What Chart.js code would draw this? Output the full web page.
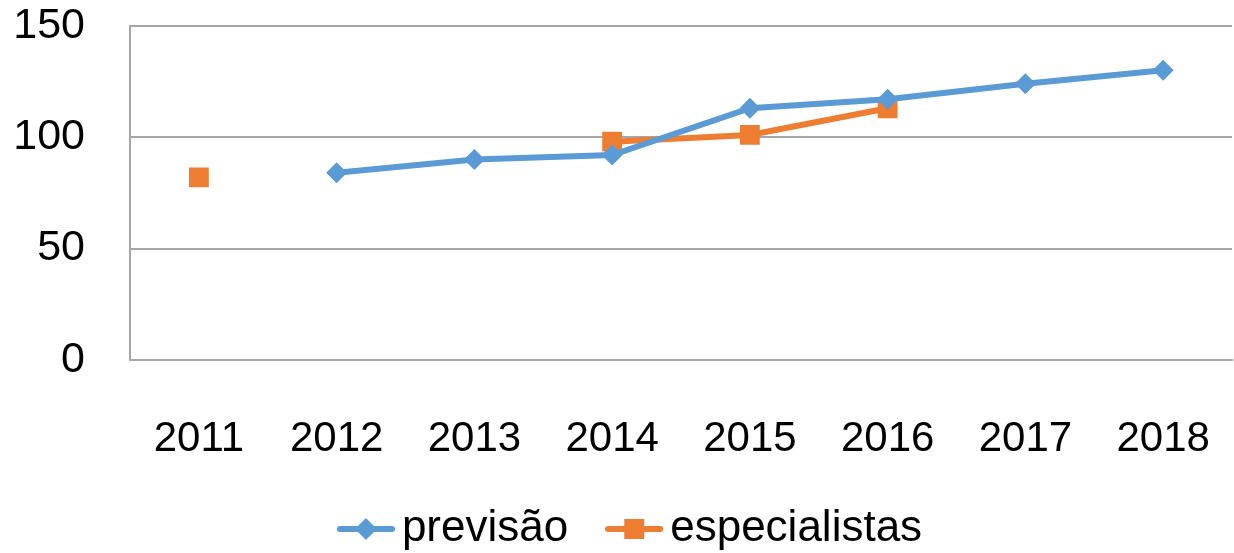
<!DOCTYPE html>
<html>
<head>
<meta charset="utf-8">
<script src="https://cdn.jsdelivr.net/npm/chart.js@4"></script>
<style>
  html, body { margin: 0; padding: 0; background: #fff; overflow: hidden; }
</style>
</head>
<body>
<canvas id="chart" width="1234" height="553"></canvas>
<script>
// dados
const anos = ['2011', '2012', '2013', '2014', '2015', '2016', '2017', '2018'];
const previsao = [null, 84, 90, 92, 113, 117, 124, 130];
const especialistas = [82, null, null, 98, 101, 113, null, null];
const yTicks = [0, 50, 100, 150];

const azul = '#5b9bd5';
const laranja = '#ed7d31';
const cinza = '#a6a6a6';
const invisivel = 'rgba(0,0,0,0)';

// marcador da legenda: linha + simbolo
function legendIcon(cor, forma) {
    let c = document.createElement('canvas');
    c.width = 58; c.height = 26;
    let g = c.getContext('2d');
    g.strokeStyle = cor;
    g.lineWidth = 6;
    g.lineCap = 'round';
    g.beginPath();
    g.moveTo(3, 13); g.lineTo(55, 13);
    g.stroke();
    g.fillStyle = cor;
    g.beginPath();
    if (forma === 'diamond') {
        g.moveTo(29, 2); g.lineTo(40, 13); g.lineTo(29, 24); g.lineTo(18, 13);
    } else {
        g.rect(19, 3, 20, 20);
    }
    g.fill();
    return c;
}

const icons = [legendIcon(azul, 'diamond'), legendIcon(laranja, 'square')];

// empurra a legenda um pouco para a direita, como no original
const legendShift = {
    id: 'legendShift',
    afterLayout: function (chart) {
        chart.legend.left += 21;
        chart.legend.right += 21;
    }
};

new Chart(document.getElementById('chart').getContext('2d'), {
    type: 'line',
    data: {
        labels: anos,
        datasets: [
            {
                label: 'previsão',
                data: previsao,
                borderColor: azul,
                backgroundColor: azul,
                borderWidth: 6,
                pointStyle: 'rectRot',
                pointRadius: 10.5,
                pointBorderWidth: 0,
                tension: 0,
                spanGaps: false
            },
            {
                label: 'especialistas',
                data: especialistas,
                borderColor: laranja,
                backgroundColor: laranja,
                borderWidth: 6,
                pointStyle: 'rect',
                pointRadius: 14,
                pointBorderWidth: 0,
                tension: 0,
                spanGaps: false
            }
        ]
    },
    plugins: [legendShift],
    options: {
        responsive: false,
        animation: false,
        layout: { autoPadding: false, padding: { left: 0, right: 2, top: 0, bottom: -8 } },
        plugins: {
            tooltip: { enabled: false },
            legend: {
                position: 'bottom',
                labels: {
                    usePointStyle: true,
                    pointStyleWidth: 28,
                    color: '#000',
                    font: { family: 'Liberation Sans', size: 44 },
                    padding: 52,
                    generateLabels: function (chart) {
                        return chart.data.datasets.map(function (ds, i) {
                            return {
                                text: ds.label,
                                pointStyle: icons[i],
                                fillStyle: ds.borderColor,
                                strokeStyle: ds.borderColor,
                                lineWidth: 0,
                                hidden: false,
                                datasetIndex: i,
                                fontColor: '#000'
                            };
                        });
                    }
                }
            }
        },
        scales: {
            x: {
                offset: true,
                afterFit: function (scale) {
                    scale.height = 95;
                    scale.paddingLeft = 0;
                    scale.paddingRight = 0;
                },
                grid: { display: false, drawTicks: true, tickLength: 54, tickColor: invisivel },
                border: { display: true, color: cinza, width: 2 },
                ticks: {
                    color: '#000',
                    font: { family: 'Liberation Sans', size: 42 },
                    padding: 0,
                    maxRotation: 0
                }
            },
            y: {
                min: 0,
                max: 150,
                afterBuildTicks: function (axis) {
                    axis.ticks = yTicks.map(v => ({ value: v }));
                },
                afterFit: function (scale) { scale.width = 130; },
                grid: { color: cinza, lineWidth: 2, drawTicks: true, tickLength: 45, tickColor: invisivel },
                border: { display: true, color: cinza, width: 2 },
                ticks: {
                    color: '#000',
                    font: { family: 'Liberation Sans', size: 43 },
                    padding: 0
                }
            }
        }
    }
});
</script>
</body>
</html>
